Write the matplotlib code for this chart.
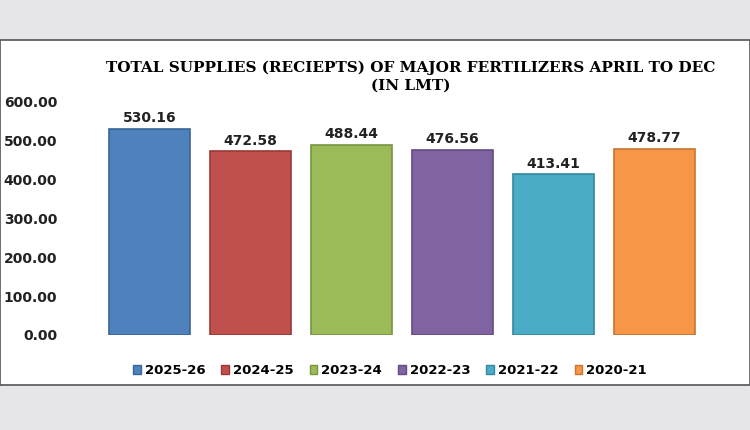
import matplotlib.pyplot as plt
from matplotlib.patches import Rectangle, Patch

years = ["2025-26", "2024-25", "2023-24", "2022-23", "2021-22", "2020-21"]
values = [530.16, 472.58, 488.44, 476.56, 413.41, 478.77]
colors = ["#4F81BD", "#C0504D", "#9BBB59", "#8064A2", "#4BACC6", "#F79646"]
edges = ["#3A6596", "#9A3936", "#789440", "#634C82", "#34879E", "#C7752F"]
yticks = [0, 100, 200, 300, 400, 500, 600]

fig = plt.figure(figsize=(7.5, 4.3), dpi=100)
fig.patch.set_facecolor("#e6e6e8")
fig.add_artist(Rectangle((0, 45/430), 1, 1 - 85/430, transform=fig.transFigure,
                         facecolor="white", edgecolor="#555555", lw=1.2, zorder=0))

ax = fig.add_axes([0.132, 0.221, 0.808, 0.542])
ax.set_facecolor("none")
x = range(len(years))
ax.bar(x, values, width=0.81, color=colors, edgecolor=edges, lw=1.2)
for i, v in zip(x, values):
    ax.text(i, v + 10, f"{v:.2f}", ha="center", va="bottom", fontsize=10, fontweight="bold", color="#222222")
ax.set_xlim(-0.5, len(years) - 0.5)
ax.set_ylim(0, 600)
ax.set_yticks(yticks)
ax.set_yticklabels([f"{t:.2f}" for t in yticks], fontsize=10, fontweight="bold", color="#222222")
ax.tick_params(axis="y", length=0, pad=30)
ax.set_xticks([])
for s in ax.spines.values():
    s.set_visible(False)

fig.text(0.547, 0.843, "TOTAL SUPPLIES (RECIEPTS) OF MAJOR FERTILIZERS APRIL TO DEC",
         ha="center", va="center", fontsize=11, fontweight="bold", family="DejaVu Serif")
fig.text(0.547, 0.800, "(IN LMT)", ha="center", va="center", fontsize=11, fontweight="bold", family="DejaVu Serif")

handles = [Patch(facecolor=c, edgecolor=e) for c, e in zip(colors, edges)]
leg = fig.legend(handles, years, loc="center", bbox_to_anchor=(0.52, 0.138), ncol=6, frameon=False,
                 handlelength=0.6, handleheight=0.6, handletextpad=0.3, columnspacing=1.2,
                 prop={"weight": "bold", "size": 9.5})
fig.savefig("out.png", dpi=100, facecolor=fig.get_facecolor())
